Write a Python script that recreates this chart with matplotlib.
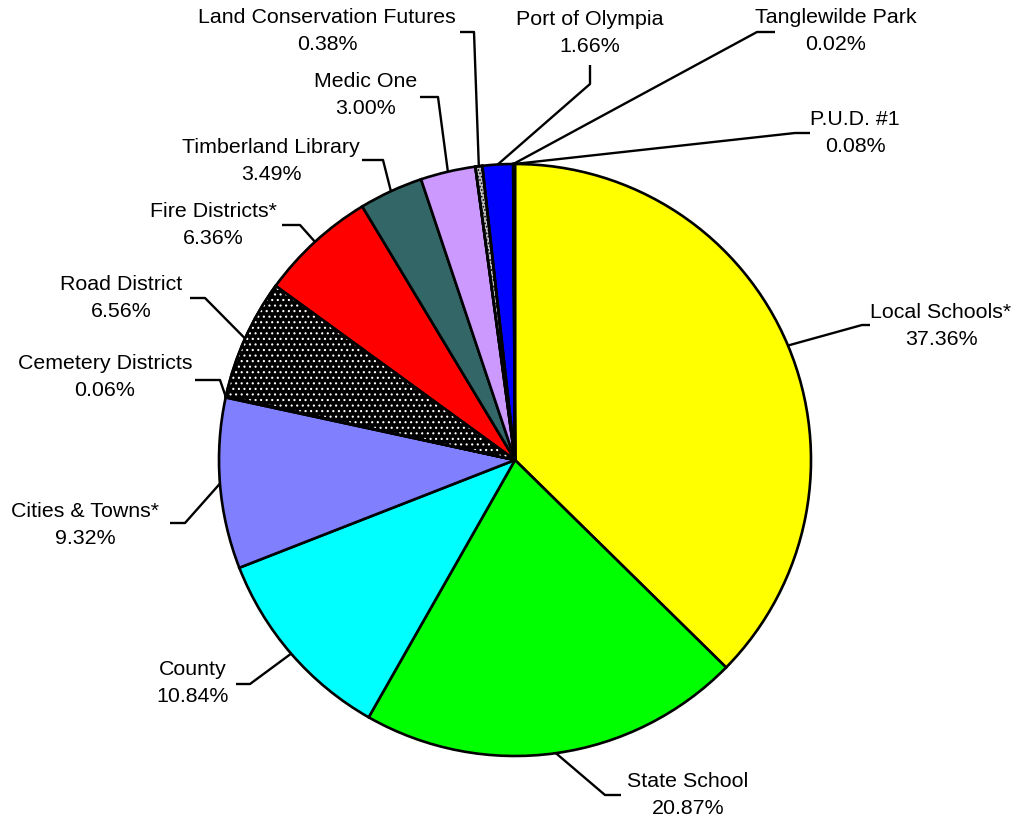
import numpy as np
import matplotlib
matplotlib.use("Agg")
import matplotlib.pyplot as plt
from matplotlib.patches import Wedge

labels = ["Local Schools*", "State School", "County", "Cities & Towns*",
          "Cemetery Districts", "Road District", "Fire Districts*",
          "Timberland Library", "Medic One", "Land Conservation Futures",
          "Port of Olympia", "Tanglewilde Park", "P.U.D. #1"]
values = [37.36, 20.87, 10.84, 9.32, 0.06, 6.56, 6.36, 3.49, 3.00, 0.38, 1.66, 0.02, 0.08]
colors = ["#FFFF00", "#00FF00", "#00FFFF", "#8080FF", "#FFFFFF", "#000000",
          "#FF0000", "#336666", "#CC99FF", "#C0C0C0", "#0000FF", "#FFFFFF", "#FFFFFF"]

W, H = 1016, 821
plt.rcParams['font.family'] = ['Liberation Sans', 'DejaVu Sans']
plt.rcParams['hatch.linewidth'] = 0.8
fig = plt.figure(figsize=(W / 100, H / 100), dpi=100)
ax = fig.add_axes([0, 0, 1, 1])

cx, cy, R = 515, H - 460, 296
wedges, _ = ax.pie(values, colors=colors, startangle=90, counterclock=False,
                   center=(cx, cy), radius=R, frame=True,
                   wedgeprops=dict(edgecolor='black', linewidth=1.9))
ax.set_xlim(0, W)
ax.set_ylim(0, H)
ax.set_aspect('equal')
ax.axis('off')

# patterned wedges
for idx, hcol, hatch in [(5, 'white', '...'), (9, 'black', '.....')]:
    w = wedges[idx]
    ov = Wedge(w.center, w.r, w.theta1, w.theta2, facecolor='none',
               edgecolor=hcol, hatch=hatch, linewidth=0, zorder=w.get_zorder() + 0.1)
    ax.add_patch(ov)
    ol = Wedge(w.center, w.r, w.theta1, w.theta2, facecolor='none',
               edgecolor='black', linewidth=1.9, zorder=w.get_zorder() + 0.2)
    ax.add_patch(ol)

# label layout (pixel coords, y from top): elbow, end, text center
layout = {
    "Local Schools*": ((862, 325), (870, 325), (941, 326)),
    "State School": ((605, 795), (621, 795), (688, 795)),
    "County": ((250, 684), (236, 684), (193, 683)),
    "Cities & Towns*": ((185, 523), (170, 523), (85, 525)),
    "Cemetery Districts": ((220, 380), (195, 380), (105, 377)),
    "Road District": ((205, 298), (190, 298), (121, 298)),
    "Fire Districts*": ((300, 225), (282, 225), (213, 225)),
    "Timberland Library": ((383, 160), (362, 160), (271, 161)),
    "Medic One": ((438, 97), (420, 97), (366, 95)),
    "Land Conservation Futures": ((474, 32), (460, 32), (327, 31)),
    "Port of Olympia": ((590, 84), (590, 65), (590, 33)),
    "Tanglewilde Park": ((757, 32), (775, 32), (836, 31)),
    "P.U.D. #1": ((795, 133), (810, 133), (855, 133)),
}

for w, lab, val in zip(wedges, labels, values):
    ang = np.deg2rad((w.theta1 + w.theta2) / 2)
    ax0 = cx + R * np.cos(ang)
    ay0 = cy + R * np.sin(ang)
    (ex, ey), (fx, fy), (tx, ty) = layout[lab]
    ax.plot([ax0, ex, fx], [ay0, H - ey, H - fy], color='black', lw=1.7,
            solid_capstyle='butt', zorder=0)
    ax.text(tx, H - ty, f"{lab}\n{val:.2f}%", ha='center', va='center',
            fontsize=15.4, linespacing=1.55)

fig.savefig("out.png", dpi=100)
